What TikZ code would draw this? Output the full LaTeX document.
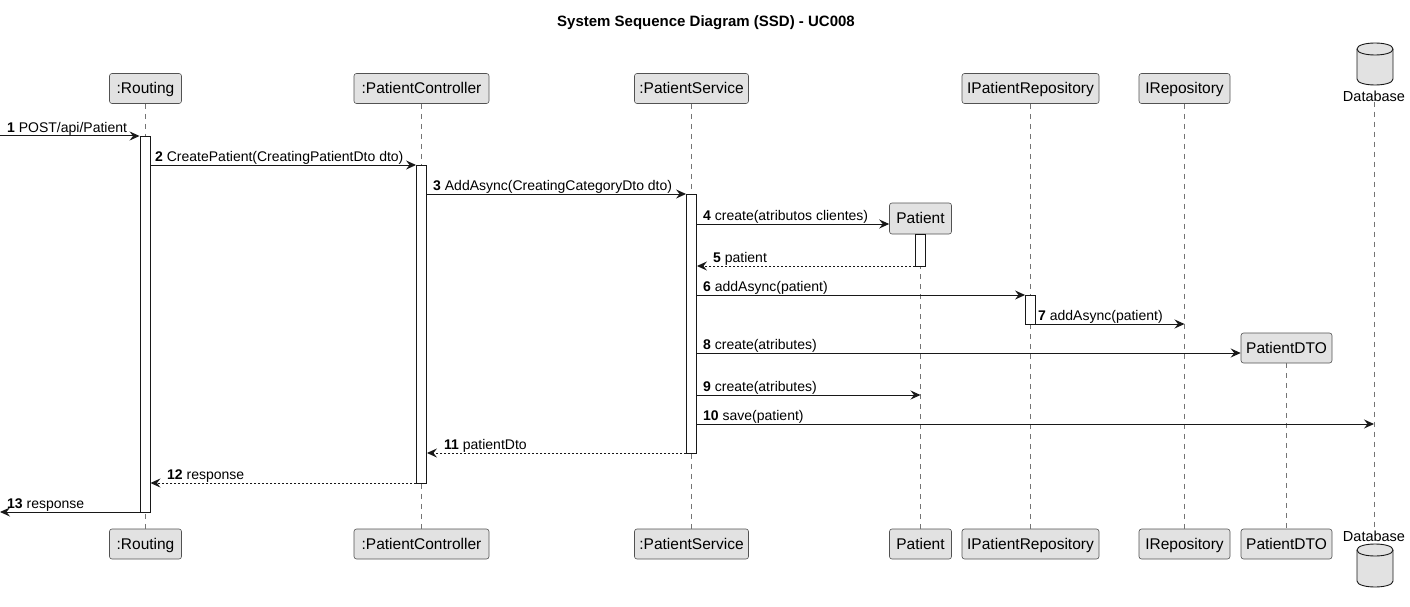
\documentclass[tikz,border=0pt]{standalone}
\usepackage{fontspec}
\setmainfont{Liberation Sans}
\usetikzlibrary{arrows.meta,calc}
\definecolor{boxgray}{HTML}{E2E2E2}
\definecolor{ink}{HTML}{181818}
\tikzset{
  part/.style={draw=ink!75, line width=0.6pt, fill=boxgray, rounded corners=2.5pt,
    inner sep=0pt, minimum height=30pt, font=\fontsize{15.5}{17}\selectfont,
    text height=12pt, text depth=2pt},
  life/.style={draw=ink!60, line width=0.6pt, dash pattern=on 5pt off 5pt},
  act/.style={draw=ink, line width=0.9pt, fill=white, minimum width=10pt, inner sep=0pt},
  msg/.style={draw=ink, line width=1pt, -{Stealth[length=10pt,width=9pt,inset=3.5pt]}},
  ret/.style={msg, dash pattern=on 2pt off 2pt},
  lbl/.style={font=\fontsize{14}{16}\selectfont, inner sep=0pt, anchor=base west},
  dbl/.style={font=\fontsize{14.5}{17}\selectfont, inner sep=0pt},
  dbshape/.style={draw=ink, line width=0.9pt, fill=boxgray}
}
\newcommand{\num}[1]{\textbf{#1}}
\begin{document}
\begin{tikzpicture}[x=1pt,y=-1pt]
\useasboundingbox (0,0) rectangle (1410,607);
% title
\node[font=\fontsize{15}{17}\selectfont\bfseries, inner sep=0pt] (title) at (706,23) {System Sequence Diagram (SSD) - UC008};
% participants top
\node[part, minimum width=72pt] (rT) at (145.5,88.5) {:Routing};
\node[part, minimum width=135pt] (pcT) at (421.5,88.5) {:PatientController};
\node[part, minimum width=114pt] (psT) at (691.5,88.5) {:PatientService};
\node[part, minimum width=137pt] (iprT) at (1030.5,88.5) {IPatientRepository};
\node[part, minimum width=91pt] (irT) at (1184.5,88.5) {IRepository};
\node[part, minimum width=62pt, minimum height=31pt] (patT) at (920.5,218.5) {Patient};
\node[part, minimum width=91pt] (dtoT) at (1286.5,348) {PatientDTO};
% participants bottom
\node[part, minimum width=72pt] (rB) at (145.5,544) {:Routing};
\node[part, minimum width=135pt] (pcB) at (421.5,544) {:PatientController};
\node[part, minimum width=114pt] (psB) at (691.5,544) {:PatientService};
\node[part, minimum width=62pt] (patB) at (920.5,544) {Patient};
\node[part, minimum width=137pt] (iprB) at (1030.5,544) {IPatientRepository};
\node[part, minimum width=91pt] (irB) at (1184.5,544) {IRepository};
\node[part, minimum width=91pt] (dtoB) at (1286.5,544) {PatientDTO};
% database top
\path[dbshape] (1357,49) .. controls (1357,41) and (1393,41) .. (1393,49) -- (1393,79)
  .. controls (1393,87) and (1357,87) .. (1357,79) -- cycle;
\draw[ink, line width=0.9pt] (1357,49) .. controls (1357,57) and (1393,57) .. (1393,49);
\node[dbl] (dbT) at (1374,96) {Database};
% database bottom
\node[dbl] (dbB) at (1374,536) {Database};
\path[dbshape] (1357,550) .. controls (1357,542) and (1393,542) .. (1393,550) -- (1393,581)
  .. controls (1393,589) and (1357,589) .. (1357,581) -- cycle;
\draw[ink, line width=0.9pt] (1357,550) .. controls (1357,558) and (1393,558) .. (1393,550);
% lifelines
\draw[life] (rT.south) -- (rB.north);
\draw[life] (pcT.south) -- (pcB.north);
\draw[life] (psT.south) -- (psB.north);
\draw[life] (patT.south) -- (patB.north);
\draw[life] (iprT.south) -- (iprB.north);
\draw[life] (irT.south) -- (irB.north);
\draw[life] (dtoT.south) -- (dtoB.north);
\draw[life] (dbT.south) -- (dbB.north);
% activations
\node[act, minimum height=376pt] (aR) at (145,324) {};
\node[act, minimum height=318pt] (aPC) at (421.5,324) {};
\node[act, minimum height=259pt] (aPS) at (691.5,323.5) {};
\node[act, minimum height=32pt] (aPat) at (920.5,250) {};
\node[act, minimum height=29pt] (aIPR) at (1030.5,309.5) {};
% free ends
\coordinate (inE) at (0,136);
\coordinate (outE) at (0,512);
% messages
\draw[msg] (inE) -- (aR.west |- 0,136);
\node[lbl] (l1) at (7,132) {\num{1} POST/api/Patient};
\draw[msg] (aR.east |- 0,165) -- (aPC.west |- 0,165);
\node[lbl] (l2) at (155,161) {\num{2} CreatePatient(CreatingPatientDto dto)};
\draw[msg] (aPC.east |- 0,194) -- (aPS.west |- 0,194);
\node[lbl] (l3) at (433,190) {\num{3} AddAsync(CreatingCategoryDto dto)};
\draw[msg] (aPS.east |- 0,224) -- (patT.west |- 0,224);
\node[lbl] (l4) at (703,220) {\num{4} create(atributos clientes)};
\draw[ret] (aPat.west |- 0,266) -- (aPS.east |- 0,266);
\node[lbl] (l5) at (713,262) {\num{5} patient};
\draw[msg] (aPS.east |- 0,295) -- (aIPR.west |- 0,295);
\node[lbl] (l6) at (703,291) {\num{6} addAsync(patient)};
\draw[msg] (aIPR.east |- 0,324) -- (irT.south |- 0,324);
\node[lbl] (l7) at (1038,320) {\num{7} addAsync(patient)};
\draw[msg] (aPS.east |- 0,353) -- (dtoT.west |- 0,353);
\node[lbl] (l8) at (703,349) {\num{8} create(atributes)};
\draw[msg] (aPS.east |- 0,395) -- (patT.south |- 0,395);
\node[lbl] (l9) at (703,391) {\num{9} create(atributes)};
\draw[msg] (aPS.east |- 0,424) -- (dbT.south |- 0,424);
\node[lbl] (l10) at (703,420) {\num{10} save(patient)};
\draw[ret] (aPS.west |- 0,453) -- (aPC.east |- 0,453);
\node[lbl] (l11) at (444,449) {\num{11} patientDto};
\draw[ret] (aPC.west |- 0,483) -- (aR.east |- 0,483);
\node[lbl] (l12) at (167,479) {\num{12} response};
\draw[msg] (aR.west |- 0,512) -- (outE);
\node[lbl] (l13) at (7,508) {\num{13} response};
\end{tikzpicture}
\end{document}
